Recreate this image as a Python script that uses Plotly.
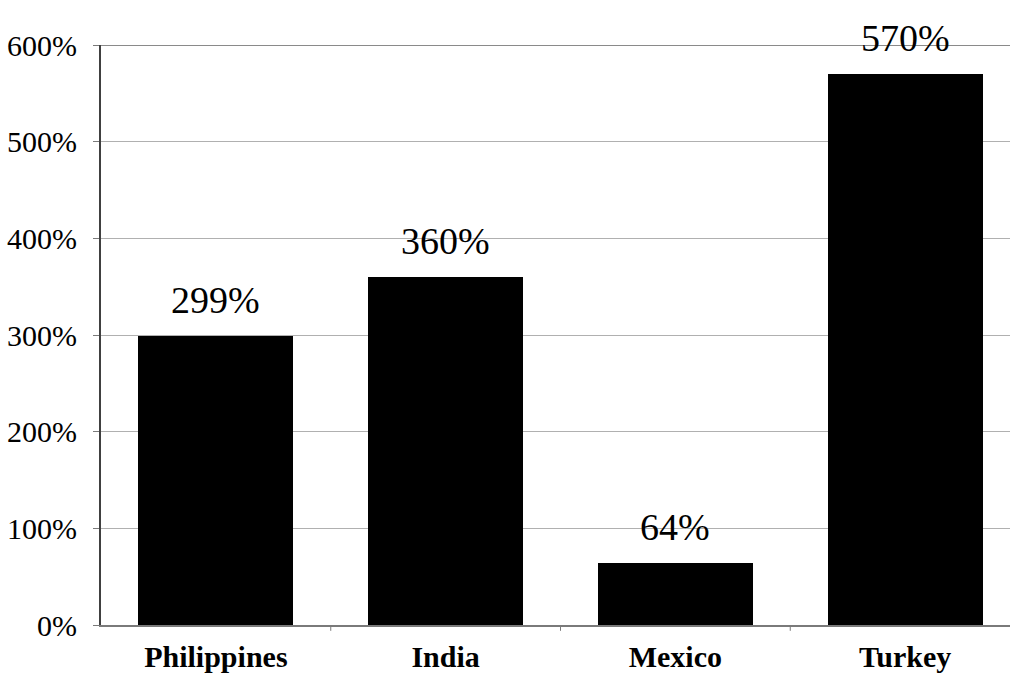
import plotly.graph_objects as go

categories = ["Philippines", "India", "Mexico", "Turkey"]
values = [299, 360, 64, 570]
value_labels = ["299%", "360%", "64%", "570%"]
y_ticks = [0, 100, 200, 300, 400, 500, 600]
y_tick_labels = ["0%", "100%", "200%", "300%", "400%", "500%", "600%"]

SERIF = "Liberation Serif"

fig = go.Figure()
fig.add_trace(go.Bar(
    x=list(range(len(categories))), y=values,
    marker=dict(color="black", line=dict(width=0)),
    width=0.674, showlegend=False,
))

for i, (v, lab) in enumerate(zip(values, value_labels)):
    fig.add_annotation(x=i, y=v, text=lab, showarrow=False, yanchor="bottom",
                       yshift=13, font=dict(family=SERIF, size=38, color="black"))

fig.add_shape(type="line", xref="paper", yref="y", x0=0, x1=1, y0=600, y1=600,
              line=dict(color="#8a8a8a", width=2), layer="above")

fig.update_layout(
    width=1010, height=673,
    margin=dict(l=101, r=0, t=45, b=48),
    paper_bgcolor="white", plot_bgcolor="white",
    bargap=0,
    font=dict(family=SERIF),
    xaxis=dict(
        range=[-0.5, 3.4565],
        tickmode="array", tickvals=list(range(len(categories))),
        ticktext=["<b>%s</b>" % c for c in categories],
        tickfont=dict(family=SERIF, size=30, color="black"),
        showgrid=False, zeroline=False,
        showline=True, linecolor="#7a7a7a", linewidth=2,
        ticks="", ticklabelstandoff=4,
    ),
    yaxis=dict(
        range=[0, 600],
        tickmode="array", tickvals=y_ticks, ticktext=y_tick_labels,
        tickfont=dict(family=SERIF, size=30, color="black"),
        showgrid=True, gridcolor="#b0b0b0", gridwidth=1,
        zeroline=False,
        showline=True, linecolor="#404040", linewidth=2,
        ticks="outside", ticklen=6, tickcolor="#7a7a7a", tickwidth=1,
        ticklabelstandoff=10,
    ),
)

for b in [0.5, 1.5, 2.5]:
    fig.add_shape(type="line", xref="x", yref="paper", x0=b, x1=b, y0=0, y1=-0.01,
                  line=dict(color="#7a7a7a", width=1))

fig.write_html("out.html")
